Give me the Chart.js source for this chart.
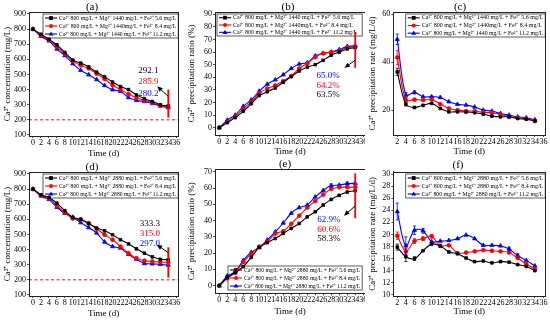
<!DOCTYPE html>
<html><head><meta charset="utf-8">
<script src="https://cdn.jsdelivr.net/npm/chart.js@4/dist/chart.umd.min.js"></script>
<style>
html,body{margin:0;padding:0;background:#fff;}
#wrap{position:relative;width:550px;height:320px;overflow:hidden;background:#fff;}
canvas{position:absolute;background:#fff;}
</style></head><body><div id="wrap">
<canvas id="ca" width="183" height="160" style="left:0px;top:0px"></canvas>
<canvas id="cb" width="186" height="160" style="left:184px;top:0px"></canvas>
<canvas id="cc" width="185" height="160" style="left:365px;top:0px"></canvas>
<canvas id="cd" width="183" height="160" style="left:0px;top:160px"></canvas>
<canvas id="ce" width="186" height="160" style="left:184px;top:160px"></canvas>
<canvas id="cf" width="185" height="160" style="left:365px;top:160px"></canvas>
</div>
<script>
// ---------- data ----------
const days = [0,2,4,6,8,10,12,14,16,18,20,22,24,26,28,30,32,34];
const rateDays = [2,4,6,8,10,12,14,16,18,20,22,24,26,28,30,32,34];
const xTicksFrom0 = [0,2,4,6,8,10,12,14,16,18,20,22,24,26,28,30,32,34,36];
const xTicksFrom2 = [2,4,6,8,10,12,14,16,18,20,22,24,26,28,30,32,34,36];
const concTicks = [100,200,300,400,500,600,700,800,900];
const ratioTicksB = [0,10,20,30,40,50,60,70,80,90];
const ratioTicksE = [0,10,20,30,40,50,60,70];
const rateTicksC = [20,40,60];
const rateTicksF = [10,12,14,16,18,20,22,24,26,28,30];

const legend1440 = ["Ca\u00B2\u207A 800 mg/L + Mg\u00B2\u207A 1440 mg/L + Fe\u00B2\u207A 5.6 mg/L",
                    "Ca\u00B2\u207A 800 mg/L + Mg\u00B2\u207A 1440mg/L + Fe\u00B2\u207A 8.4 mg/L",
                    "Ca\u00B2\u207A 800 mg/L + Mg\u00B2\u207A 1440 mg/L + Fe\u00B2\u207A 11.2 mg/L"];
const legend2880 = ["Ca\u00B2\u207A 800 mg/L + Mg\u00B2\u207A 2880 mg/L + Fe\u00B2\u207A 5.6 mg/L",
                    "Ca\u00B2\u207A 800 mg/L + Mg\u00B2\u207A 2880 mg/L + Fe\u00B2\u207A 8.4 mg/L",
                    "Ca\u00B2\u207A 800 mg/L + Mg\u00B2\u207A 2880 mg/L + Fe\u00B2\u207A 11.2 mg/L"];

// (a) Ca2+ concentration, Mg 1440
const aFe56  = [800,766,733,696,646,595,575,550,515,485,450,420,400,365,340,321,300,292.1];
const aFe84  = [800,760,728,685,636,590,560,540,505,470,428,400,370,345,330,313,293,285.9];
const aFe112 = [800,752,722,668,625,571,527,498,466,427,399,389,347,328,321,308,292,280.2];
// (b) precipitation ratio, Mg 1440
const bFe56  = [0,4,8,13,19,25.5,28.5,31.5,36,40.5,45,48,50,53.5,57.5,60,62.5,63.5];
const bFe84  = [0,4.5,9,15,20.5,27.5,31,33.5,37,41,47,51,56,59,60,61,63.5,64.2];
const bFe112 = [0,6,10,17,22,29,34.5,38,42,47,50.5,51.5,57,59,60,62,64.5,65.0];
// (c) precipitation rate, Mg 1440
const cFe56  = [36,22.5,21.1,22,22.8,20.7,19.3,19.3,19.2,18.9,18.3,17.5,17.2,17.2,16.5,16.2,15.5];
const cFe84  = [42,24.2,24.4,24.2,24.4,22.5,20.7,20,19.6,19.6,19,18.9,18.2,17.2,16.8,16.4,15.4];
const cFe112 = [49.6,26.3,27.4,25.6,25.6,25.3,23.5,22.4,22.1,21.3,20,19.6,18.6,17.9,17.2,16.8,16];
const cErr56  = [1.5,0.8,0.4,0,0,0,0,0,0,0,0,0,0,0,0,0,0];
const cErr84  = [3,0.8,0.5,0,0,0,0,0,0,0,0,0,0,0,0,0,0];
const cErr112 = [2.2,1,0.6,0,0,0,0,0,0,0,0,0,0,0,0,0,0];
// (d) Ca2+ concentration, Mg 2880
const dFe56  = [800,762,745,707,657,612,601,571,542,524,498,465,438,405,376,352,336,333.3];
const dFe84  = [800,758,740,690,645,605,598,575,537,498,465,420,376,343,326,321,318,315.0];
const dFe112 = [800,755,732,680,640,615,578,545,510,450,420,410,368,335,308,306,302,297.0];
// (e) precipitation ratio, Mg 2880
const eFe56  = [0,5,8,11.7,17.4,23.5,26.4,29,32.1,35.2,38.2,42.3,45.4,49.5,53,55.5,57.5,58.3];
const eFe84  = [0,4.5,8,14.5,19.5,24,27,32,33.5,38,43,48,52,56,59.5,60.5,60.5,60.6];
const eFe112 = [0,6,8.5,15.5,20.5,23.5,28,33,38.5,44.5,48,49.5,54.5,58.5,61.5,61.8,62.7,62.9];
const eErr112 = [0,0,0,0,0,0,0,0,0,0,0,0,0,0,1,0,0.8,0];
// (f) precipitation rate, Mg 2880
const fFe56  = [17.9,16.3,16.0,17.3,18.4,18.1,17.1,16.8,16.1,15.5,15.6,15.3,15.5,15.4,15.0,14.7,14.0];
const fFe84  = [19.8,17.2,18.9,19.3,19.7,18.1,18.2,16.9,17.0,17.2,17.4,17.3,17.2,17.0,16.1,15.1,14.3];
const fFe112 = [23.8,18.1,20.7,20.6,18.8,18.9,19.0,19.3,19.9,19.3,18.2,18.2,18.1,17.6,16.5,15.7,14.8];
const fErr56  = [0.5,0.8,0.3,0,0,0,0,0,0,0,0,0,0,0,0,0,0];
const fErr84  = [0.6,0.5,0.4,0.3,0.3,0,0,0,0,0,0,0,0,0,0,0,0];
const fErr112 = [1.4,1.5,0.7,0.4,0,0,0,0,0,0,0,0,0,0.3,0.3,0,0];

// ---------- styling ----------
const F = "'Liberation Serif','Times New Roman',serif";
const BLACK = '#000000', RED = '#ff0000', BLUE = '#0000ff';

function ds(label, xs, ys, color, style, tension, errs){
  return {label, data: xs.map((x,i)=>({x, y: ys[i]})), borderColor: color, backgroundColor: color,
    pointStyle: style, pointRadius: style==='triangle'?2.4:1.9, pointBorderWidth: 0.8,
    borderWidth: 1.1, tension, errs};
}

const deco = {
  id: 'deco',
  beforeDatasetsDraw(chart, args, o){
    const {ctx, chartArea: ca} = chart;
    if (!o.legend) return;
    ctx.save();
    const g = o.legend;
    const bx = ca.left + g.dx, bw = ca.right - g.dr - bx;
    const by = g.bottom ? ca.bottom - g.dy - g.h : ca.top + g.dy;
    ctx.fillStyle = '#fff'; ctx.fillRect(bx, by, bw, g.h);
    ctx.strokeStyle = '#333'; ctx.lineWidth = 0.8; ctx.strokeRect(bx, by, bw, g.h);
    ctx.font = '6px ' + F; ctx.textAlign = 'left'; ctx.textBaseline = 'middle';
    chart.data.datasets.forEach((d, i) => {
      const ry = by + g.h * (i + 0.5) / 3;
      ctx.strokeStyle = d.borderColor; ctx.lineWidth = 1.1;
      ctx.beginPath(); ctx.moveTo(bx + 2, ry); ctx.lineTo(bx + 14, ry); ctx.stroke();
      ctx.fillStyle = d.borderColor;
      const mx = bx + 8, r = 1.9;
      ctx.beginPath();
      if (d.pointStyle === 'rect') ctx.rect(mx - r, ry - r, 2*r, 2*r);
      else if (d.pointStyle === 'circle') ctx.arc(mx, ry, r, 0, Math.PI*2);
      else { ctx.moveTo(mx, ry - 2.6); ctx.lineTo(mx + 2.4, ry + 1.6); ctx.lineTo(mx - 2.4, ry + 1.6); ctx.closePath(); }
      ctx.fill();
      ctx.fillStyle = '#000';
      ctx.fillText(d.label, bx + 16, ry, bw - 18);
    });
    ctx.restore();
  },
  afterDatasetsDraw(chart, args, o){
    const {ctx, chartArea: ca} = chart;
    const x = chart.scales.x, y = chart.scales.y;
    ctx.save();
    // error bars
    chart.data.datasets.forEach(d => {
      if (!d.errs) return;
      ctx.strokeStyle = d.borderColor; ctx.lineWidth = 0.8;
      d.errs.forEach((e, j) => {
        if (!e) return;
        const v = d.data[j].y, px = x.getPixelForValue(d.data[j].x);
        const t = y.getPixelForValue(v + e), b = y.getPixelForValue(v - e);
        ctx.beginPath();
        ctx.moveTo(px, t); ctx.lineTo(px, b);
        ctx.moveTo(px-1.6, t); ctx.lineTo(px+1.6, t);
        ctx.moveTo(px-1.6, b); ctx.lineTo(px+1.6, b);
        ctx.stroke();
      });
    });
    // horizontal dashed limit
    if (o.hline != null) {
      const py = y.getPixelForValue(o.hline);
      ctx.strokeStyle = RED; ctx.lineWidth = 1; ctx.setLineDash([3,2.5]);
      ctx.beginPath(); ctx.moveTo(ca.left, py); ctx.lineTo(ca.right, py); ctx.stroke();
      ctx.setLineDash([]);
    }
    // vertical red bar
    if (o.vline) {
      const px = x.getPixelForValue(o.vline[0]);
      ctx.strokeStyle = RED; ctx.lineWidth = 1.8;
      ctx.beginPath(); ctx.moveTo(px, y.getPixelForValue(o.vline[1])); ctx.lineTo(px, y.getPixelForValue(o.vline[2])); ctx.stroke();
    }
    // arrow
    if (o.arrow) {
      const x1 = x.getPixelForValue(o.arrow[0]), y1 = y.getPixelForValue(o.arrow[1]);
      const x2 = x.getPixelForValue(o.arrow[2]), y2 = y.getPixelForValue(o.arrow[3]);
      const ang = Math.atan2(y2 - y1, x2 - x1);
      ctx.strokeStyle = BLACK; ctx.fillStyle = BLACK; ctx.lineWidth = 1;
      ctx.beginPath(); ctx.moveTo(x1, y1); ctx.lineTo(x2 - 3*Math.cos(ang), y2 - 3*Math.sin(ang)); ctx.stroke();
      const L = 5.5, W = 2.4;
      ctx.beginPath();
      ctx.moveTo(x2, y2);
      ctx.lineTo(x2 - L*Math.cos(ang) + W*Math.sin(ang), y2 - L*Math.sin(ang) - W*Math.cos(ang));
      ctx.lineTo(x2 - L*Math.cos(ang) - W*Math.sin(ang), y2 - L*Math.sin(ang) + W*Math.cos(ang));
      ctx.closePath(); ctx.fill();
    }
    // value labels
    if (o.labels) {
      ctx.font = '9px ' + F; ctx.textAlign = 'center'; ctx.textBaseline = 'middle';
      o.labels.forEach(l => {
        ctx.fillStyle = l[3];
        ctx.fillText(l[0], x.getPixelForValue(l[1]), y.getPixelForValue(l[2]));
      });
    }
    // frame
    ctx.strokeStyle = '#222'; ctx.lineWidth = 1;
    ctx.strokeRect(Math.round(ca.left)+0.5, Math.round(ca.top)+0.5, Math.round(ca.right-ca.left), Math.round(ca.bottom-ca.top));
    // panel title
    if (o.title) {
      ctx.fillStyle = '#000'; ctx.font = '11px ' + F; ctx.textAlign = 'center'; ctx.textBaseline = 'middle';
      ctx.fillText(o.title[0], o.title[1], o.title[2]);
    }
    ctx.restore();
  }
};
Chart.register(deco);

function axisX(min, max, ticks, h, tpad){
  return {type:'linear', position:'bottom', min, max,
    afterBuildTicks: s => { s.ticks = ticks.map(v => ({value: v})); },
    afterFit: s => { s.height = h; s.paddingLeft = 0; s.paddingRight = 0; },
    grid:{display:true, drawOnChartArea:false, tickLength:2, color:'#222', lineWidth:0.8},
    border:{color:'#222', width:1},
    ticks:{font:{family:F, size:8}, color:'#000', padding:0, autoSkip:false, maxRotation:0, minRotation:0, callback: v => String(v)},
    title:{display:true, text:'Time (d)', font:{family:F, size:9}, color:'#000', padding:{top:0, bottom:tpad}}
  };
}
function axisY(min, max, ticks, w, title){
  return {type:'linear', position:'left', min, max,
    afterBuildTicks: s => { s.ticks = ticks.map(v => ({value: v})); },
    afterFit: s => { s.width = w; s.paddingTop = 0; s.paddingBottom = 0; },
    grid:{display:true, drawOnChartArea:false, tickLength:2, color:'#222', lineWidth:0.8},
    border:{color:'#222', width:1},
    ticks:{font:{family:F, size:8}, color:'#000', padding:1, autoSkip:false, callback: v => String(v)},
    title:{display:true, text:title, font:{family:F, size:9}, color:'#000', padding:{top:2.3, bottom:0}}
  };
}

function make(id, datasets, xs, ys, pad, deco){
  new Chart(document.getElementById(id), {
    type:'line',
    data:{datasets},
    options:{responsive:false, animation:false, devicePixelRatio:1,
      layout:{padding:pad},
      scales:{x: xs, y: ys},
      plugins:{legend:{display:false}, tooltip:{enabled:false}, title:{display:false}, deco}
    }
  });
}

const tConc = 'Ca\u00B2\u207A concentration (mg/L)';
const tRatio = 'Ca\u00B2\u207A precipitation ratio (%)';
const tRate = 'Ca\u00B2\u207A precipitation rate (mg/L/d)';

// (a)
make('ca', [
  ds(legend1440[0], days, aFe56, BLACK, 'rect', 0.2),
  ds(legend1440[1], days, aFe84, RED, 'circle', 0.2),
  ds(legend1440[2], days, aFe112, BLUE, 'triangle', 0.2)],
  axisX(-1, 36.5, xTicksFrom0, 24, 1.3), axisY(93, 913, concTicks, 29, tConc),
  {left:0, right:1, top:12, bottom:0},
  {title:['(a)', 92, 7], hline:200, vline:[34, 215, 400], arrow:[34, 355, 31.2, 422],
   labels:[['292.1', 29, 523, BLACK], ['285.9', 29, 450, RED], ['280.2', 29, 374, BLUE]],
   legend:{dx:14, dr:0, dy:2, h:24}});

// (b)
make('cb', [
  ds(legend1440[0], days, bFe56, BLACK, 'rect', 0.2),
  ds(legend1440[1], days, bFe84, RED, 'circle', 0.2),
  ds(legend1440[2], days, bFe112, BLUE, 'triangle', 0.2)],
  axisX(-1.06, 36.5, xTicksFrom0, 25, 2.5), axisY(-5.8, 91.8, ratioTicksB, 31, tRatio),
  {left:0, right:3.2, top:12, bottom:0},
  {title:['(b)', 104, 7], vline:[34, 47.5, 76], arrow:[34, 53.5, 31.3, 47.5],
   labels:[['65.0%', 27.2, 41, BLUE], ['64.2%', 27.2, 33.5, RED], ['63.5%', 27.2, 26, BLACK]],
   legend:{dx:2, dr:3, dy:2, h:22}});

// (c)
make('cc', [
  ds(legend1440[0], rateDays, cFe56, BLACK, 'rect', 0.35, cErr56),
  ds(legend1440[1], rateDays, cFe84, RED, 'circle', 0.35, cErr84),
  ds(legend1440[2], rateDays, cFe112, BLUE, 'triangle', 0.35, cErr112)],
  axisX(1.08, 36.4, xTicksFrom2, 25, 2.5), axisY(9.6, 61, rateTicksC, 28.3, tRate),
  {left:0, right:3.3, top:12, bottom:0},
  {title:['(c)', 95, 7], legend:{dx:12.4, dr:0, dy:2, h:23}});

// (d)
make('cd', [
  ds(legend2880[0], days, dFe56, BLACK, 'rect', 0.2),
  ds(legend2880[1], days, dFe84, RED, 'circle', 0.2),
  ds(legend2880[2], days, dFe112, BLUE, 'triangle', 0.2)],
  axisX(-1, 36.5, xTicksFrom0, 24, 1.3), axisY(93, 913, concTicks, 29, tConc),
  {left:0, right:1, top:12, bottom:0},
  {title:['(d)', 92, 7], hline:200, vline:[34, 215, 415], arrow:[34, 380, 31.1, 432],
   labels:[['333.3', 29.4, 569, BLACK], ['315.0', 29.4, 503, RED], ['297.0', 29.4, 437, BLUE]],
   legend:{dx:14, dr:0, dy:2, h:24}});

// (e)
make('ce', [
  ds(legend2880[0], days, eFe56, BLACK, 'rect', 0.2),
  ds(legend2880[1], days, eFe84, RED, 'circle', 0.2),
  ds(legend2880[2], days, eFe112, BLUE, 'triangle', 0.2, eErr112)],
  axisX(-1.06, 36.5, xTicksFrom0, 26.7, 2.5), axisY(-4.7, 71.5, ratioTicksE, 31, tRatio),
  {left:0, right:3.2, top:9.3, bottom:0},
  {title:['(e)', 101, 4], vline:[34, 41.4, 69], arrow:[34, 49, 31.2, 43],
   labels:[['62.9%', 27.4, 40.5, BLUE], ['60.6%', 27.4, 34.4, RED], ['58.3%', 27.4, 28.6, BLACK]],
   legend:{dx:13, dr:3, dy:3.3, h:24, bottom:true}});

// (f)
make('cf', [
  ds(legend2880[0], rateDays, fFe56, BLACK, 'rect', 0.35, fErr56),
  ds(legend2880[1], rateDays, fFe84, RED, 'circle', 0.35, fErr84),
  ds(legend2880[2], rateDays, fFe112, BLUE, 'triangle', 0.35, fErr112)],
  axisX(1.08, 36.4, xTicksFrom2, 24, 2.5), axisY(9.8, 30.4, rateTicksF, 28.3, tRate),
  {left:0, right:3.3, top:11.7, bottom:0},
  {title:['(f)', 93, 5], legend:{dx:12.4, dr:0, dy:2.3, h:24}});
</script>
</body></html>
